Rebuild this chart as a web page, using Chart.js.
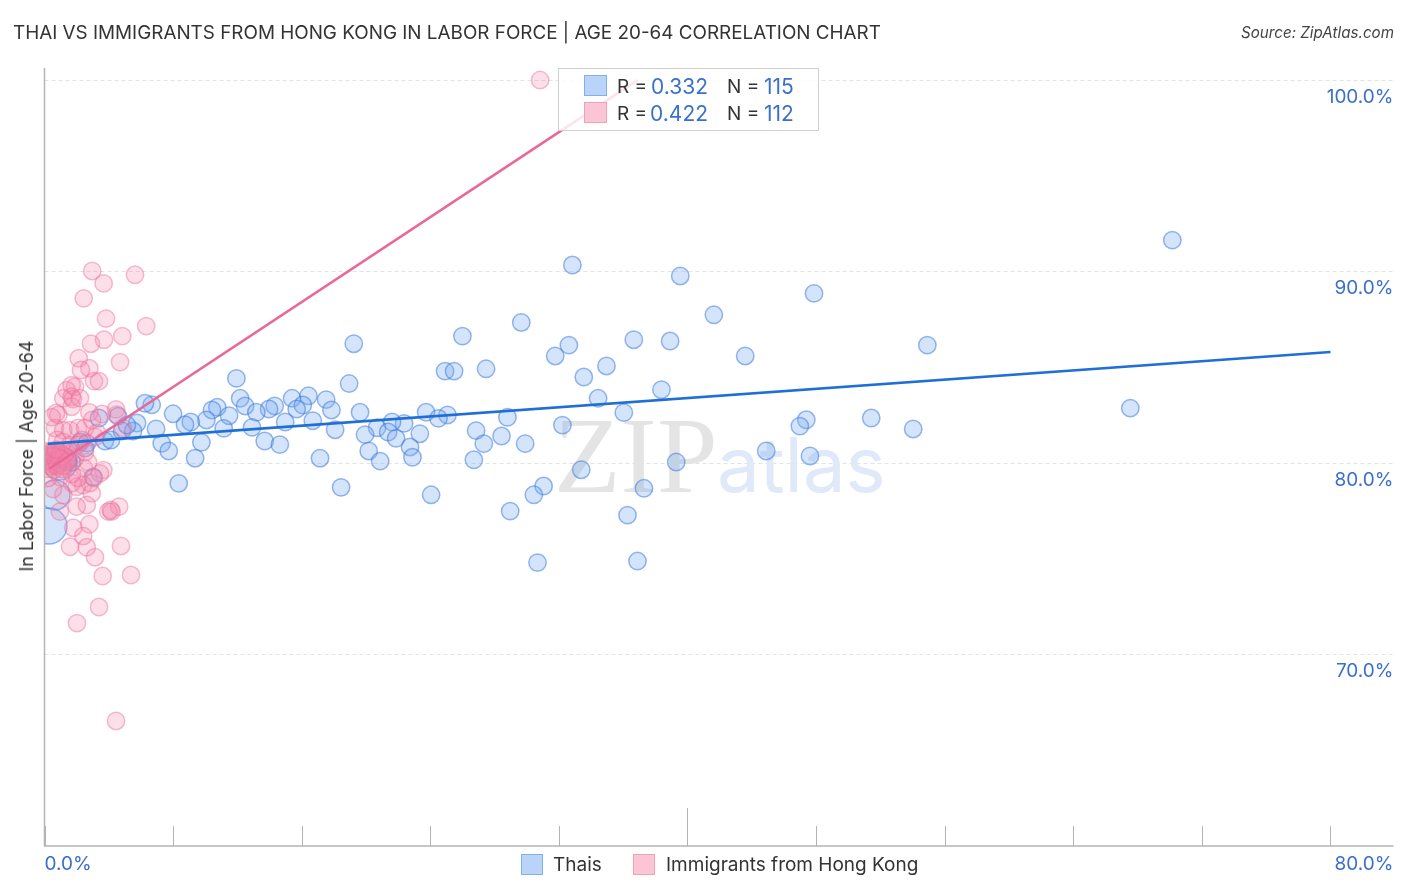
<!DOCTYPE html>
<html>
<head>
<meta charset="utf-8">
<title>Thai vs Immigrants from Hong Kong</title>
<script src="https://cdn.jsdelivr.net/npm/chart.js@4"></script>
<style>
  html, body { margin: 0; padding: 0; background: #fff; }
  body { width: 1406px; height: 892px; position: relative; overflow: hidden; font-family: Inter, sans-serif; color: #333; }
  canvas { position: absolute; left: 0; top: 0; }
  .txt { position: absolute; white-space: nowrap; line-height: 1; }
  .num { color: #3a70cc; }
  .box { position: absolute; box-sizing: border-box; }
  .blue { background: #b9d4f8; border: 1.5px solid #85afe8; }
  .pink { background: #fcc5d6; border: 1.5px solid #f0a0b8; }
</style>
</head>
<body>
<!-- a bit wider than the page: Chart.js keeps 20px free on the right of the plot -->
<canvas id="chart" width="1413" height="892"></canvas>

<div class="txt" style="left:13px;top:24px;font-size:18.86px;color:#333">THAI VS IMMIGRANTS FROM HONG KONG IN LABOR FORCE | AGE 20-64 CORRELATION CHART</div>
<div class="txt" style="right:12px;top:25px;font-size:15.2px;font-style:italic;color:#444">Source: ZipAtlas.com</div>
<div class="txt" style="left:27px;top:456px;font-size:18px;transform:translate(-50%,-50%) rotate(-90deg)">In Labor Force | Age 20-64</div>

<div class="box" style="left:558px;top:68px;width:261px;height:63px;background:rgba(255,255,255,0.82);border:1px solid #d0d0d0"></div>
<div class="box blue" style="left:584px;top:75px;width:23px;height:21px"></div>
<div class="box pink" style="left:584px;top:102px;width:23px;height:21px"></div>
<div class="txt" style="left:617px;top:77px;font-size:19px">R =</div>
<div class="txt num" style="right:698px;top:76px;font-size:21px">0.332</div>
<div class="txt" style="left:727px;top:77px;font-size:19px">N =</div>
<div class="txt num" style="left:764px;top:76px;font-size:21px">115</div>
<div class="txt" style="left:617px;top:104px;font-size:19px">R =</div>
<div class="txt num" style="right:698px;top:103px;font-size:21px">0.422</div>
<div class="txt" style="left:727px;top:104px;font-size:19px">N =</div>
<div class="txt num" style="left:764px;top:103px;font-size:21px">112</div>

<div class="box blue" style="left:521px;top:854px;width:22px;height:21px"></div>
<div class="txt" style="left:553px;top:855px;font-size:19px">Thais</div>
<div class="box pink" style="left:633px;top:854px;width:22px;height:21px"></div>
<div class="txt" style="left:666px;top:855px;font-size:19px">Immigrants from Hong Kong</div>

<script>
// values, percent
const thaisX = [11.94, 18.95, 12.17, 12.48, 15.40, 16.42, 17.52, 16.07, 15.69, 17.85, 14.32, 13.97, 13.18, 10.75, 10.42, 11.48, 10.07, 9.10, 8.74, 8.00, 6.67, 6.25, 14.97, 16.69, 12.91, 11.15, 18.08, 19.63, 6.94, 5.76, 13.70, 14.64, 9.76, 7.29, 7.73, 9.37, 17.14, 8.35, 18.45, 26.00, 24.92, 25.48, 27.47, 19.24, 23.74, 25.07, 24.51, 22.37, 21.62, 20.69, 21.38, 19.94, 21.87, 23.35, 20.17, 22.74, 22.89, 20.88, 24.05, 26.85, 27.33, 28.43, 28.80, 29.90, 26.71, 32.22, 33.39, 31.05, 30.44, 28.97, 30.67, 34.44, 32.84, 39.55, 47.87, 41.64, 29.66, 32.62, 31.77, 36.66, 38.92, 43.59, 34.96, 33.55, 38.38, 36.04, 47.39, 46.99, 44.90, 47.62, 39.30, 37.29, 36.27, 36.89, 70.16, 54.92, 51.43, 54.04, 67.55, 3.39, 4.57, 2.21, 2.64, 3.76, 4.14, 4.82, 5.51, 5.13, 3.02, 1.71, 2.52, 0.96, 0.65, 0.28, 1.46];
const thaisY = [84.42, 84.15, 83.38, 82.98, 83.38, 83.51, 83.31, 83.03, 82.82, 82.77, 82.98, 82.82, 82.65, 82.91, 82.77, 82.47, 82.25, 82.14, 82.00, 82.57, 83.04, 83.12, 82.14, 82.21, 81.86, 81.81, 81.74, 82.65, 81.78, 82.09, 81.15, 80.96, 81.08, 81.03, 80.63, 80.25, 80.25, 78.94, 78.73, 86.63, 84.80, 84.80, 84.92, 86.23, 82.65, 82.51, 82.33, 82.07, 82.14, 81.84, 81.62, 81.48, 81.29, 81.53, 80.63, 80.84, 80.30, 80.10, 78.34, 81.69, 81.01, 81.41, 82.39, 81.01, 80.17, 81.98, 79.65, 78.80, 78.34, 77.49, 74.80, 83.38, 90.34, 89.77, 88.86, 87.74, 87.34, 86.16, 85.59, 86.44, 86.37, 85.59, 85.07, 84.49, 83.83, 82.63, 82.26, 81.93, 80.63, 80.37, 80.05, 78.68, 77.28, 74.88, 91.64, 86.16, 82.35, 81.78, 82.87, 82.35, 82.45, 81.10, 81.04, 81.15, 81.20, 81.67, 81.67, 81.98, 79.27, 80.05, 80.78, 80.00, 78.33, 76.71, 80.16];

const hongKongX = [2.97, 5.63, 3.68, 2.44, 3.83, 6.33, 4.84, 3.70, 2.89, 4.70, 2.13, 2.79, 2.27, 3.08, 3.39, 1.90, 1.38, 1.69, 1.17, 1.69, 1.77, 1.69, 2.21, 0.86, 0.72, 2.79, 4.45, 4.49, 3.58, 2.96, 4.88, 0.65, 1.17, 1.59, 2.10, 2.52, 3.14, 0.45, 3.27, 3.66, 3.45, 2.41, 2.00, 2.94, 2.63, 2.00, 1.17, 0.96, 4.64, 3.97, 4.12, 4.18, 1.79, 2.79, 2.41, 1.59, 2.63, 4.76, 3.14, 3.62, 5.38, 3.39, 2.02, 4.45, 30.83, 2.83, 1.71, 2.46, 2.71, 1.71, 2.08, 0.96, 0.53, 0.22, 3.08, 0.16, 0.34, 0.53, 0.16, 0.34, 0.65, 0.84, 0.22, 0.47, 0.72, 0.16, 0.34, 0.59, 0.90, 1.09, 1.28, 1.40, 1.71, 1.90, 0.96, 1.28, 1.59, 2.08, 2.33, 0.78, 1.15, 0.22, 0.59, 1.09, 1.20, 0.96, 0.78, 1.15, 0.47, 0.72, 2.52, 1.40];
const hongKongY = [90.03, 89.83, 89.38, 88.60, 87.54, 87.15, 86.63, 86.44, 86.23, 85.27, 85.47, 84.95, 84.86, 84.28, 84.28, 83.98, 83.81, 84.07, 83.38, 83.46, 83.34, 82.94, 83.39, 82.51, 82.61, 82.64, 82.80, 82.53, 82.56, 82.25, 81.83, 81.83, 81.72, 81.72, 81.83, 81.83, 81.36, 82.40, 81.57, 79.63, 79.46, 78.85, 78.76, 78.42, 77.81, 77.72, 78.33, 77.46, 77.72, 77.46, 77.55, 77.46, 76.62, 76.80, 76.19, 75.63, 75.60, 75.67, 75.08, 74.10, 74.15, 72.48, 71.64, 66.53, 100.00, 78.96, 78.96, 79.74, 80.05, 79.43, 79.22, 79.27, 78.64, 79.22, 79.22, 80.60, 80.55, 80.60, 80.40, 80.30, 80.45, 80.30, 80.15, 80.10, 80.05, 79.95, 79.84, 79.90, 80.00, 80.16, 79.90, 80.26, 80.57, 80.26, 80.55, 80.50, 80.94, 80.94, 81.20, 81.20, 81.10, 79.70, 79.65, 79.70, 80.35, 80.25, 79.85, 79.84, 80.42, 80.70, 80.57, 80.05];

const thaisTrendX = [0.2, 80];
const thaisTrendY = [81.0, 85.8];
const hongKongTrendX = [0.3, 36.9];
const hongKongTrendY = [79.7, 100];

const xTickValues = [0, 8, 16, 24, 32, 40, 48, 56, 64, 72, 80];
const yTickValues = [70, 80, 90, 100];

const toPoints = (xs, ys) => xs.map((x, i) => ({ x: x, y: ys[i] }));

// the three pale wide circles hugging the left axis
const thaisLarge = { 111: 17, 112: 15, 113: 18 };

// axis lines, tick marks, x labels and the watermark
const frame = {
  id: 'frame',
  beforeDatasetsDraw(chart) {
    const c = chart.ctx;
    c.save();
    c.textBaseline = 'alphabetic';
    c.textAlign = 'left';
    c.fillStyle = '#e4e4e4';
    c.font = '109px "Liberation Serif"';
    c.fillText('ZIP', 554, 492);
    c.fillStyle = '#dfe9f9';
    c.font = '76px Inter';
    c.fillText('atlas', 717, 492);
    c.restore();
  },
  afterDraw(chart) {
    const c = chart.ctx;
    const a = chart.chartArea;
    const xs = chart.scales.x;
    c.save();
    c.strokeStyle = '#b4b4b4';
    c.lineWidth = 1.5;
    c.beginPath();
    c.moveTo(a.left, a.top);
    c.lineTo(a.left, a.bottom);
    c.lineTo(a.right, a.bottom);
    c.stroke();
    c.lineWidth = 1;
    xTickValues.forEach(v => {
      const px = Math.round(xs.getPixelForValue(v)) + 0.5;
      c.beginPath();
      c.moveTo(px, a.bottom);
      c.lineTo(px, a.bottom - (v === 40 ? 38 : 20));
      c.stroke();
    });
    c.fillStyle = '#3a70cc';
    c.font = '19px Inter';
    c.textBaseline = 'middle';
    c.textAlign = 'left';
    c.fillText('0.0%', a.left, 864);
    c.textAlign = 'right';
    c.fillText('80.0%', a.right, 864);
    c.restore();
  }
};

const chart = new Chart(document.getElementById('chart').getContext('2d'), {
  type: 'scatter',
  data: {
    datasets: [
      {
        type: 'line',
        label: 'Thais trend',
        data: toPoints(thaisTrendX, thaisTrendY),
        borderColor: '#1f6fd6',
        borderWidth: 2.6,
        pointRadius: 0,
        order: 1
      },
      {
        type: 'line',
        label: 'Immigrants from Hong Kong trend',
        data: toPoints(hongKongTrendX, hongKongTrendY),
        borderColor: '#e8689a',
        borderWidth: 2.6,
        pointRadius: 0,
        order: 2
      },
      {
        label: 'Immigrants from Hong Kong',
        data: toPoints(hongKongX, hongKongY),
        backgroundColor: 'rgba(245,130,170,0.26)',
        borderColor: 'rgba(235,110,150,0.45)',
        borderWidth: 1.5,
        pointRadius: 8.7,
        order: 3
      },
      {
        label: 'Thais',
        data: toPoints(thaisX, thaisY),
        backgroundColor: 'rgba(120,170,240,0.32)',
        borderColor: 'rgba(50,115,220,0.5)',
        borderWidth: 1.5,
        pointRadius: ctx => thaisLarge[ctx.dataIndex] || 8.7,
        order: 4
      }
    ]
  },
  options: {
    responsive: false,
    animation: false,
    events: [],
    layout: { padding: { left: 44.5, right: 13, top: 68, bottom: 38 } },
    plugins: { legend: { display: false }, tooltip: { enabled: false } },
    scales: {
      x: {
        type: 'linear',
        min: 0,
        max: 83.92,
        afterBuildTicks: s => { s.ticks = xTickValues.map(v => ({ value: v })); },
        grid: { display: false },
        border: { display: false },
        ticks: { display: false }
      },
      y: {
        type: 'linear',
        position: 'right',
        min: 60,
        max: 100.63,
        afterBuildTicks: s => { s.ticks = yTickValues.map(v => ({ value: v })); },
        afterFit: s => { s.width = 0; },
        grid: { color: '#e3e3e3', lineWidth: 1, drawTicks: false },
        border: { display: false, dash: [4, 3] },
        ticks: {
          mirror: true,
          padding: 0,
          labelOffset: 17,
          color: '#3a70cc',
          font: { family: 'Inter', size: 19 },
          callback: v => v.toFixed(1) + '%'
        }
      }
    }
  },
  plugins: [frame]
});
</script>
</body>
</html>
